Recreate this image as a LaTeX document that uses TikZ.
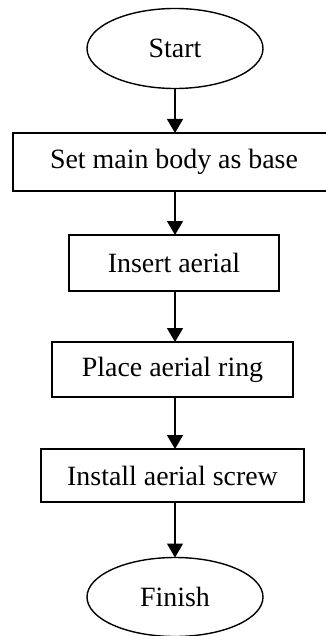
\documentclass[tikz,border=0pt]{standalone}
\usepackage{fontspec}
\setmainfont{Liberation Serif}
\usetikzlibrary{arrows.meta,shapes.geometric}
\begin{document}
\begin{tikzpicture}[x=1bp,y=-1bp,
  every node/.style={font=\fontsize{28}{32}\selectfont, inner sep=0pt, outer sep=0pt, line width=1.4bp},
  terminal/.style={draw, ellipse, minimum width=176bp, minimum height=80bp},
  stepbox/.style={draw, rectangle},
  arr/.style={-{Triangle[length=14bp,width=16bp]}, line width=1.4bp}]
\useasboundingbox (0,0) rectangle (325,636);
% terminals and process steps
\node[terminal] (start) at (175,48.5) {Start};
\node[stepbox, minimum width=322bp, minimum height=58bp] (s1) at (174,162) {Set main body as base};
\node[stepbox, minimum width=210bp, minimum height=56bp] (s2) at (174,263) {Insert aerial};
\node[stepbox, minimum width=241bp, minimum height=55bp] (s3) at (172.5,369.5) {Place aerial ring};
\node[stepbox, minimum width=263bp, minimum height=53bp] (s4) at (172.5,475.5) {Install aerial screw};
\node[terminal, minimum height=79bp] (finish) at (175,597) {Finish};
% vertical flow arrows
\draw[arr] (start.south) -- (start.south |- s1.north);
\draw[arr] (start.south |- s1.south) -- (start.south |- s2.north);
\draw[arr] (start.south |- s2.south) -- (start.south |- s3.north);
\draw[arr] (start.south |- s3.south) -- (start.south |- s4.north);
\draw[arr] (start.south |- s4.south) -- (finish.north);
\end{tikzpicture}
\end{document}
